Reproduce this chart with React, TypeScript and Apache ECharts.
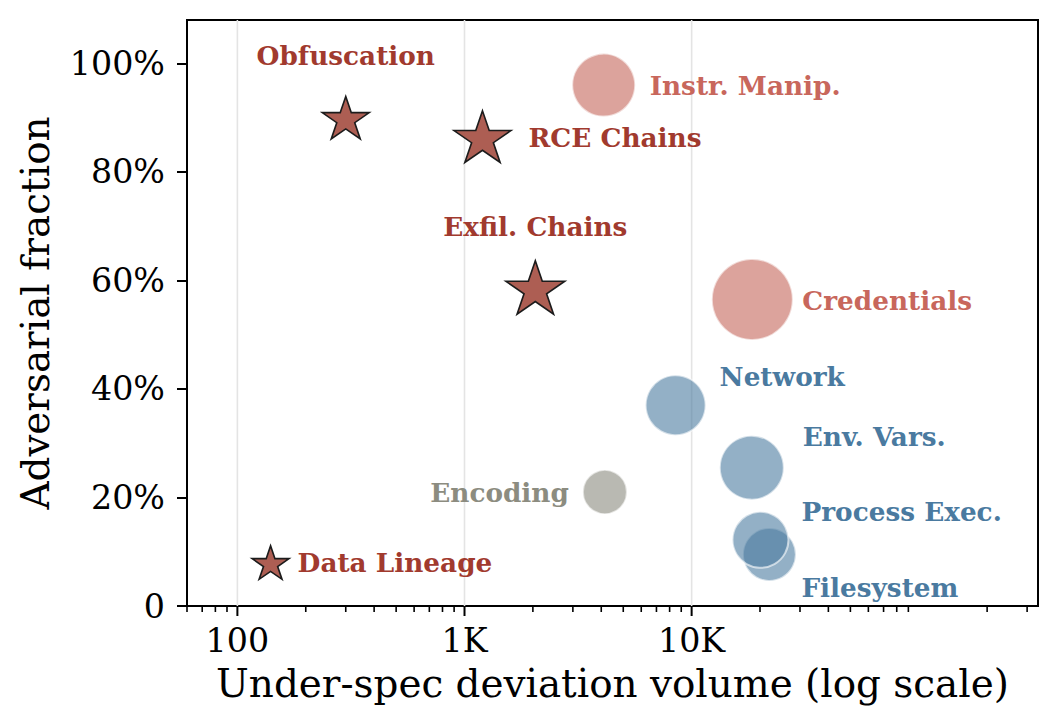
import React, { useEffect, useRef } from 'react';
import * as echarts from 'echarts';

// ---- data ----
const categories = [
  'Obfuscation',
  'RCE Chains',
  'Exfil. Chains',
  'Data Lineage',
  'Instr. Manip.',
  'Credentials',
  'Encoding',
  'Network',
  'Env. Vars.',
  'Filesystem',
  'Process Exec.',
];
const deviationVolume = [300, 1200, 2050, 140, 4100, 18500, 4150, 8500, 18400, 22000, 20100];
const adversarialPct = [90, 86.5, 58.7, 8, 96, 56.5, 21, 37, 25.5, 9.5, 12.2];
const categoryGroup = [
  'chain', 'chain', 'chain', 'chain',
  'adversarial', 'adversarial',
  'mixed',
  'benign', 'benign', 'benign', 'benign',
];

const xMajorTicks = [100, 1000, 10000];
const xMajorLabels = ['100', '1K', '10K'];
const yTicks = [0, 20, 40, 60, 80, 100];
const yTickLabels = ['0', '20%', '40%', '60%', '80%', '100%'];

// ---- presentation ----
const X_MIN = 60;
const X_MAX = 335000;
const Y_MIN = 0;
const Y_MAX = 108;

const markerDiameter: Record<string, number> = {
  'Obfuscation': 47,
  'RCE Chains': 57,
  'Exfil. Chains': 59,
  'Data Lineage': 37,
  'Instr. Manip.': 63,
  'Credentials': 81,
  'Encoding': 44,
  'Network': 60,
  'Env. Vars.': 64,
  'Filesystem': 53,
  'Process Exec.': 56,
};

const labelPlacement: Record<string, { align: string; dx: number; dy: number }> = {
  'Obfuscation': { align: 'center', dx: 0, dy: -62 },
  'RCE Chains': { align: 'left', dx: 46, dy: 1 },
  'Exfil. Chains': { align: 'center', dx: 0, dy: -61 },
  'Data Lineage': { align: 'left', dx: 27, dy: 0 },
  'Instr. Manip.': { align: 'left', dx: 46, dy: 0 },
  'Credentials': { align: 'left', dx: 50, dy: 1 },
  'Encoding': { align: 'right', dx: -36, dy: 0 },
  'Network': { align: 'left', dx: 44, dy: -29 },
  'Env. Vars.': { align: 'left', dx: 51, dy: -31 },
  'Filesystem': { align: 'left', dx: 32, dy: 33 },
  'Process Exec.': { align: 'left', dx: 41, dy: -28 },
};

const groupStyle: Record<string, { fill: string; label: string; border: string; star: boolean }> = {
  chain: { fill: 'rgba(169,85,74,0.95)', label: '#a13a2e', border: '#1c1c1c', star: true },
  adversarial: { fill: 'rgba(197,102,90,0.6)', label: '#c8675c', border: 'rgba(255,255,255,0.6)', star: false },
  mixed: { fill: 'rgba(138,138,127,0.6)', label: '#8c8c80', border: 'rgba(255,255,255,0.6)', star: false },
  benign: { fill: 'rgba(75,123,160,0.6)', label: '#4a7aa0', border: 'rgba(255,255,255,0.6)', star: false },
};

const STAR_PATH =
  'path://M100 0 L122.45 69.1 L195.11 69.1 L136.33 111.8 L158.78 180.9 L100 138.2 L41.22 180.9 L63.67 111.8 L4.89 69.1 L77.55 69.1 Z';
const STAR_ASPECT = 190.22 / 180.9;

const FONT = '"DejaVu Serif", "Liberation Serif", serif';

function buildGroupSeries(groupName: string) {
  const st = groupStyle[groupName];
  const data: any[] = [];
  categories.forEach((name, i) => {
    if (categoryGroup[i] !== groupName) return;
    const d = markerDiameter[name];
    const lp = labelPlacement[name];
    data.push({
      name,
      value: [deviationVolume[i], adversarialPct[i]],
      symbolSize: st.star ? [d, d / STAR_ASPECT] : d,
      label: {
        show: true,
        position: 'inside',
        offset: [lp.dx, lp.dy],
        align: lp.align,
        verticalAlign: 'middle',
        formatter: name,
        color: st.label,
        opacity: 1,
        fontFamily: FONT,
        fontWeight: 'bold',
        fontSize: 26.3,
      },
    });
  });
  return {
    type: 'scatter',
    name: groupName,
    z: st.star ? 4 : 3,
    symbol: st.star ? STAR_PATH : 'circle',
    symbolKeepAspect: true,
    itemStyle: {
      color: st.fill,
      borderColor: st.border,
      borderWidth: st.star ? 1.6 : 2,
      opacity: 1,
    },
    emphasis: { disabled: true },
    data,
  };
}

// log-axis minor tick positions: 2..9 x each decade inside the visible range
const xMinorTicks: number[] = [];
for (let base = 10; base <= 100000; base *= 10) {
  for (let m = 2; m <= 9; m++) {
    const v = m * base;
    if (v >= X_MIN && v <= X_MAX) xMinorTicks.push(v);
  }
}
const xTickData = [
  ...xMajorTicks.map((v) => [v, 1]),
  ...xMinorTicks.map((v) => [v, 0]),
];

export default function App() {
  const ref = useRef<HTMLDivElement>(null);

  useEffect(() => {
    document.body.style.margin = '0';
    const chart = echarts.init(ref.current!, null, { renderer: 'svg' });

    const option: any = {
      animation: false,
      backgroundColor: '#ffffff',
      grid: {
        left: 187,
        right: 21,
        top: 20,
        bottom: 122,
        show: true,
        borderColor: '#000',
        borderWidth: 2,
        backgroundColor: 'transparent',
      },
      xAxis: {
        type: 'log',
        logBase: 10,
        min: X_MIN,
        max: X_MAX,
        name: 'Under-spec deviation volume (log scale)',
        nameLocation: 'middle',
        nameGap: 58,
        nameTextStyle: { fontFamily: FONT, fontSize: 38.9, color: '#000' },
        axisLine: { show: true, lineStyle: { color: '#000', width: 2 } },
        axisTick: { show: false },
        splitLine: { show: false },
        minorTick: { show: false },
        axisLabel: {
          margin: 18,
          fontFamily: FONT,
          fontSize: 33.3,
          color: '#000',
          formatter: (v: number) => {
            const idx = xMajorTicks.findIndex((t) => Math.abs(Math.log10(v) - Math.log10(t)) < 1e-6);
            return idx >= 0 ? xMajorLabels[idx] : '';
          },
        },
      },
      yAxis: {
        type: 'value',
        min: Y_MIN,
        max: Y_MAX,
        interval: 20,
        name: 'Adversarial fraction',
        nameLocation: 'middle',
        nameGap: 132,
        nameTextStyle: { fontFamily: FONT, fontSize: 38.9, color: '#000' },
        axisLine: { show: true, lineStyle: { color: '#000', width: 2 } },
        axisTick: {
          show: true,
          length: 10,
          lineStyle: { color: '#000', width: 2 },
          customValues: yTicks,
        },
        splitLine: { show: false },
        axisLabel: {
          margin: 22,
          fontFamily: FONT,
          fontSize: 33.3,
          color: '#000',
          showMaxLabel: true,
          customValues: yTicks,
          formatter: (v: number) => {
            const idx = yTicks.indexOf(Math.round(v));
            return idx >= 0 ? yTickLabels[idx] : '';
          },
        },
      },
      series: [
        {
          type: 'custom',
          name: 'x-ticks',
          z: 1,
          silent: true,
          clip: false,
          renderItem: (_params: any, api: any) => {
            const v = api.value(0);
            const major = api.value(1) === 1;
            const bottom = api.coord([v, Y_MIN]);
            const top = api.coord([v, Y_MAX]);
            const len = major ? 10 : 6;
            const children: any[] = [];
            if (major) {
              children.push({
                type: 'line',
                shape: { x1: top[0], y1: top[1], x2: bottom[0], y2: bottom[1] },
                style: { stroke: '#e4e4e4', lineWidth: 1.6 },
              });
            }
            children.push({
              type: 'line',
              shape: { x1: bottom[0], y1: bottom[1], x2: bottom[0], y2: bottom[1] + len },
              style: { stroke: '#000', lineWidth: major ? 2 : 1.6 },
            });
            return { type: 'group', children };
          },
          data: xTickData,
        },
        buildGroupSeries('benign'),
        buildGroupSeries('mixed'),
        buildGroupSeries('adversarial'),
        buildGroupSeries('chain'),
      ],
    };

    chart.setOption(option);
    return () => chart.dispose();
  }, []);

  return <div ref={ref} style={{ width: 1059, height: 728 }} />;
}
